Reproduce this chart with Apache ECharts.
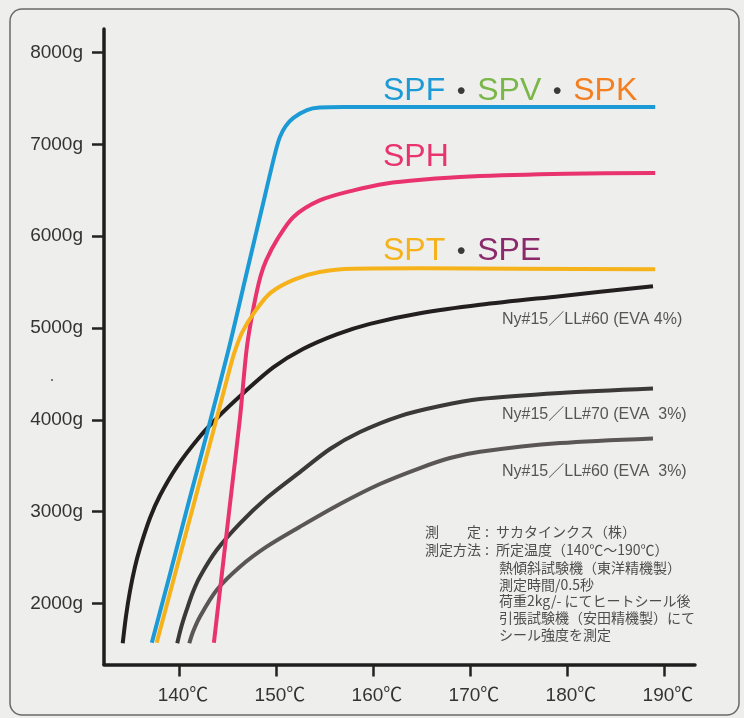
<!DOCTYPE html>
<html><head><meta charset="utf-8">
<script src="https://cdn.jsdelivr.net/npm/echarts@6/dist/echarts.min.js"></script>
<style>html,body{margin:0;padding:0;background:#eeeeec}#c{width:744px;height:718px}</style>
</head><body><div id="c"></div>
<script>
// ---- data (temperature ℃, seal strength g) ----
const xTicks = [140, 150, 160, 170, 180, 190];
const yTicks = [2000, 3000, 4000, 5000, 6000, 7000, 8000];

const spfData = [[137.2,1570],[139,2290],[141,3100],[143,3900],[145.1,4760],[147,5610],[148.5,6280],[149.9,6900],[150.4,7080],[151,7200],[151.8,7290],[153.2,7375],[154.5,7402],[157,7408],[170,7408],[189.1,7408]];
const sphData = [[143.6,1570],[144.5,2390],[145.4,3210],[146.3,4030],[147.0,4790],[147.7,5230],[148.4,5560],[149.0,5740],[150.1,5960],[151.8,6210],[154.5,6390],[158,6500],[161.4,6575],[165,6615],[170,6650],[180,6680],[189.1,6690]];
const sptData = [[137.7,1570],[139.5,2280],[141.5,3070],[143.5,3860],[145.4,4620],[145.8,4760],[146.5,4950],[147.7,5160],[149.4,5380],[151.8,5525],[154.5,5610],[158,5645],[165,5650],[175,5645],[189.1,5640]];
const eva4ll60Data = [[134.2,1565],[134.54,1862],[134.95,2134],[135.46,2395],[135.98,2602],[137.01,2929],[138.04,3175],[139.76,3485],[142.16,3818],[144.23,4052],[146.63,4290],[149.72,4570],[152.78,4770],[156.26,4930],[159.69,5045],[164.85,5160],[171.03,5252],[179.28,5347],[188.87,5456]];
const eva3ll70Data = [[139.82,1564],[140.21,1731],[140.79,1927],[141.44,2123],[142.16,2290],[143.89,2580],[146.29,2871],[149.04,3147],[152.47,3430],[155.57,3681],[158.66,3866],[162.78,4040],[166.91,4149],[171.03,4225],[179.28,4291],[188.87,4340]];
const eva3ll60Data = [[141.06,1564],[141.44,1688],[142.16,1854],[143.89,2145],[146.29,2399],[149.04,2617],[152.47,2834],[156.6,3082],[160.72,3300],[164.85,3474],[167.94,3583],[171.03,3651],[179.28,3746],[188.87,3797]];

const curveLabels = ['Ny#15／LL#60 (EVA 4%)', 'Ny#15／LL#70 (EVA  3%)', 'Ny#15／LL#60 (EVA  3%)'];
const noteLines = [
  ['測　　定', 'サカタインクス（株）'],
  ['測定方法', '所定温度（140℃〜190℃）'],
  ['', '熱傾斜試験機（東洋精機製）'],
  ['', '測定時間/0.5秒'],
  ['', '荷重2kg/- にてヒートシール後'],
  ['', '引張試験機（安田精機製）にて'],
  ['', 'シール強度を測定']
];

const LAT = '"Liberation Sans", Arial, "Noto Sans CJK JP", sans-serif';
const CJK = '"Noto Sans CJK JP", sans-serif';

function lineSeries(name, data, color, z) {
  return {
    name, type: 'line', data, z,
    symbol: 'none', showSymbol: false,
    smooth: 0.3,
    lineStyle: { color, width: 4, cap: 'butt', join: 'round' },
    emphasis: { disabled: true }, silent: true
  };
}

const chart = echarts.init(document.getElementById('c'));
const graphics = [
  { type: 'rect', shape: { x: 10, y: 9, width: 729, height: 706, r: 12 },
    style: { fill: 'none', stroke: '#6a6a6a', lineWidth: 1.5 }, z: 0 },
  { type: 'circle', shape: { cx: 52, cy: 380, r: 1 }, style: { fill: '#555' } },
  { type: 'text', x: 383, y: 91, style: {
      text: '{a|SPF}{d|・}{b|SPV}{d|・}{c|SPK}', verticalAlign: 'middle', align: 'left',
      rich: {
        a: { fill: '#1b9ad6', font: '32px ' + LAT },
        b: { fill: '#7ab648', font: '32px ' + LAT },
        c: { fill: '#f47f20', font: '32px ' + LAT },
        d: { fill: '#3a3a3a', font: '32px ' + CJK }
      } } },
  { type: 'text', x: 383, y: 157, style: {
      text: 'SPH', fill: '#e8336f', font: '32px ' + LAT, verticalAlign: 'middle', align: 'left' } },
  { type: 'text', x: 383, y: 251, style: {
      text: '{a|SPT}{d|・}{b|SPE}', verticalAlign: 'middle', align: 'left',
      rich: {
        a: { fill: '#f5b21b', font: '32px ' + LAT },
        b: { fill: '#8b2a6b', font: '32px ' + LAT },
        d: { fill: '#3a3a3a', font: '32px ' + CJK }
      } } }
];
const labelY = [320, 415, 472];
curveLabels.forEach((t, i) => graphics.push({ type: 'text', x: 502, y: labelY[i],
  style: { text: t, fill: '#555', font: '16px ' + LAT, verticalAlign: 'middle', align: 'left' } }));
const noteY = [532, 549.3, 567.5, 584.7, 601, 618, 635];
noteLines.forEach((ln, i) => {
  if (ln[0]) {
    graphics.push({ type: 'text', x: 425, y: noteY[i], style: { text: ln[0], fill: '#4d4d4d', font: '14px ' + CJK, verticalAlign: 'middle' } });
    graphics.push({ type: 'text', x: 485, y: noteY[i], style: { text: ':', fill: '#4d4d4d', font: '14px ' + CJK, verticalAlign: 'middle' } });
    graphics.push({ type: 'text', x: 496, y: noteY[i], style: { text: ln[1], fill: '#4d4d4d', font: '14px ' + CJK, verticalAlign: 'middle' } });
  } else {
    graphics.push({ type: 'text', x: 499, y: noteY[i], style: { text: ln[1], fill: '#4d4d4d', font: '14px ' + CJK, verticalAlign: 'middle' } });
  }
});

chart.setOption({
  animation: false,
  backgroundColor: '#eeeeec',
  grid: { left: 104, right: 49, top: 29, bottom: 53.5, containLabel: false },
  xAxis: {
    type: 'value', min: 132.27, max: 193.2,
    splitLine: { show: false },
    axisLine: { onZero: false, lineStyle: { color: '#1e1e1e', width: 3.5 } },
    axisTick: { show: true, length: 12, inside: false, customValues: xTicks, lineStyle: { color: '#222', width: 2.5 } },
    axisLabel: { customValues: xTicks, formatter: v => v + '℃', color: '#333', fontSize: 19, fontFamily: LAT, margin: 22, padding: [0, 0, 0, 8] }
  },
  yAxis: {
    type: 'value', min: 1333, max: 8258,
    splitLine: { show: false },
    axisLine: { show: true, onZero: false, lineStyle: { color: '#1e1e1e', width: 3.5 } },
    axisTick: { show: true, length: 12, inside: false, customValues: yTicks, lineStyle: { color: '#222', width: 2.5 } },
    axisLabel: { customValues: yTicks, formatter: v => v + 'g', color: '#333', fontSize: 19, fontFamily: LAT, margin: 21 }
  },
  series: [
    lineSeries('Ny#15/LL#60 (EVA 3%)', eva3ll60Data, '#5a5656', 2),
    lineSeries('Ny#15/LL#70 (EVA 3%)', eva3ll70Data, '#3b3838', 3),
    lineSeries('Ny#15/LL#60 (EVA 4%)', eva4ll60Data, '#231f20', 4),
    lineSeries('SPF・SPV・SPK', spfData, '#1b9ad6', 5),
    lineSeries('SPH', sphData, '#e8336f', 6),
    lineSeries('SPT・SPE', sptData, '#f5b21b', 7)
  ],
  graphic: graphics
});
</script>
</body></html>
